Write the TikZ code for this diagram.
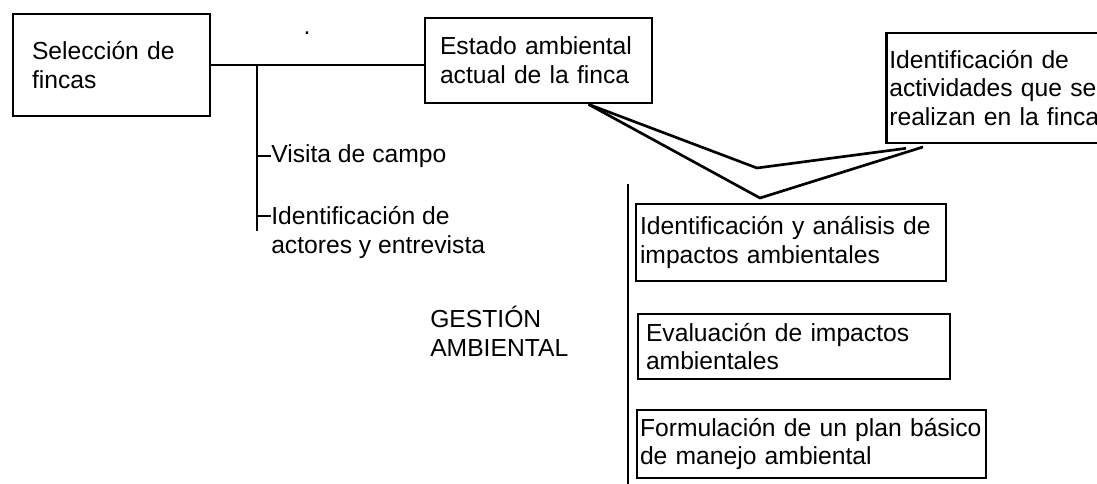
\documentclass[tikz,border=0pt]{standalone}
\usepackage{fontspec}
\setmainfont{Liberation Sans}

\begin{document}
\begin{tikzpicture}[
    x=0.75pt, y=-0.75pt,
    font=\fontsize{18.5}{21.5}\selectfont,
    box/.style={draw, line width=2pt, align=left, inner ysep=0pt},
    lbl/.style={inner sep=0pt, align=left},
    conn/.style={line width=2pt},
    sep/.style={line width=1.5pt}
  ]
  \clip (0,0) rectangle (1097,484);

  % Upper row
  \node[box, text width=119.25pt, inner xsep=14.25pt, minimum height=76.5pt] (sel) at (111.5,65) {Selección de\\fincas};
  \node[box, text width=147.75pt, inner xsep=11.25pt, minimum height=63.75pt] (estado) at (538.5,60.5) {Estado ambiental\\actual de la finca};
  \node[box, text width=180pt, inner xsep=2.25pt, minimum height=82.5pt, anchor=west] (activ) at (885,88) {Identificación de\\actividades que se\\realizan en la finca};
  \node[lbl, anchor=base] (punto) at (307,35) {.};

  % Field work
  \coordinate (ramal) at (257,65);
  \coordinate (ramalfin) at (257,231);
  \node[lbl, anchor=west] (visita) at (271,156) {Visita de campo};
  \node[lbl, anchor=north west] (actores) at (271,206) {Identificación de\\actores y entrevista};

  % Management
  \node[lbl, anchor=west] (gestion) at (430,331) {GESTIÓN\\AMBIENTAL};
  \coordinate (septop) at (628,184);
  \coordinate (sepbot) at (628,484);
  \node[box, text width=226.5pt, inner xsep=3pt, minimum height=57.75pt] (impactos) at (791,242.5) {Identificación y análisis de\\impactos ambientales};
  \node[box, text width=222pt, inner xsep=6pt, minimum height=48.75pt] (evaluacion) at (794,346.5) {Evaluación de impactos\\ambientales};
  \node[box, text width=257.25pt, inner xsep=2.25pt, minimum height=51pt] (plan) at (811.5,444) {Formulación de un plan básico\\de manejo ambiental};

  % Connectors
  \draw[conn] (sel.east) -- (sel.east -| estado.west);
  \draw[conn] (ramal) -- (ramalfin);
  \draw[conn] (visita.west) -- (visita.west -| ramal);
  \draw[conn] ([yshift=-7.5pt]actores.north west) -- ([yshift=-7.5pt]actores.north west -| ramal);
  \coordinate (v1) at (757,168);
  \coordinate (v2) at (760,198);
  \draw[conn] ([xshift=37.5pt]estado.south) -- (v1) -- ([xshift=15.75pt,yshift=-3pt]activ.south west);
  \draw[conn] ([xshift=37.5pt]estado.south) -- (v2) -- ([xshift=28.5pt,yshift=-2pt]activ.south west);
  \draw[sep] (septop) -- (sepbot);
\end{tikzpicture}
\end{document}
